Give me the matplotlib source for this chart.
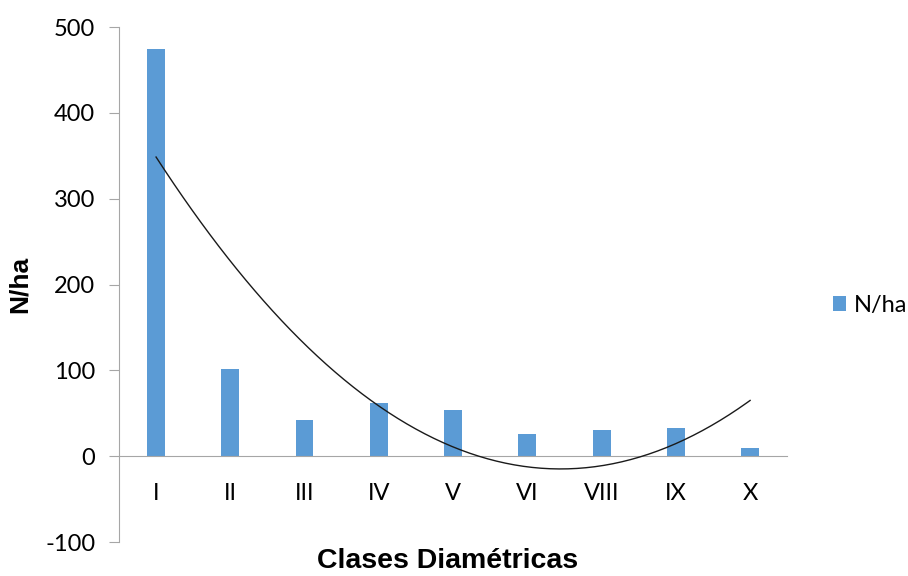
import matplotlib.pyplot as plt
import numpy as np

plt.rcParams['font.family'] = ['Lato', 'DejaVu Sans']
plt.rcParams['axes.unicode_minus'] = False

clases = ['I', 'II', 'III', 'IV', 'V', 'VI', 'VIII', 'IX', 'X']
n_ha = [474, 102, 42, 62, 54, 26, 30, 33, 9]

bar_color = '#5B9BD5'
axis_color = '#A6A6A6'

fig = plt.figure(figsize=(9.08, 5.76), dpi=100)
ax = fig.add_axes([0.131, 0.059, 0.736, 0.894])

x = np.arange(1, len(clases) + 1)
ax.bar(x, n_ha, width=0.24, color=bar_color, label='N/ha', zorder=2)

# polynomial trendline (order 2), like Excel
coef = np.polyfit(x, n_ha, 2)
xs = np.linspace(x[0], x[-1], 200)
ax.plot(xs, np.polyval(coef, xs), color='#1a1a1a', lw=1.0, zorder=3)

ax.set_xlim(0.5, len(clases) + 0.5)
ax.set_ylim(-100, 500)
ax.set_yticks(np.arange(-100, 501, 100))
ax.set_xticks(x)
ax.set_xticklabels(clases)

for s in ['top', 'right']:
    ax.spines[s].set_visible(False)
ax.spines['bottom'].set_position(('data', 0))
ax.spines['bottom'].set_color(axis_color)
ax.spines['left'].set_color(axis_color)
ax.tick_params(axis='x', length=0, pad=19, labelsize=17)
ax.tick_params(axis='y', length=7, color=axis_color, labelsize=17, pad=10)

ax.set_ylabel('N/ha', fontsize=19, fontweight='bold',
              family=['Liberation Sans', 'DejaVu Sans'])
ax.yaxis.set_label_coords(-0.130, 0.50)
fig.text(0.493, 0.003, 'Clases Diamétricas', ha='center', va='bottom',
         fontsize=20.5, fontweight='bold', family=['Liberation Sans', 'DejaVu Sans'])

fig.legend(loc='center left', bbox_to_anchor=(0.917, 0.47), frameon=False,
           fontsize=17, handlelength=0.55, handleheight=0.55, handletextpad=0.35,
           borderpad=0, borderaxespad=0)

fig.savefig('out.png', dpi=100)
